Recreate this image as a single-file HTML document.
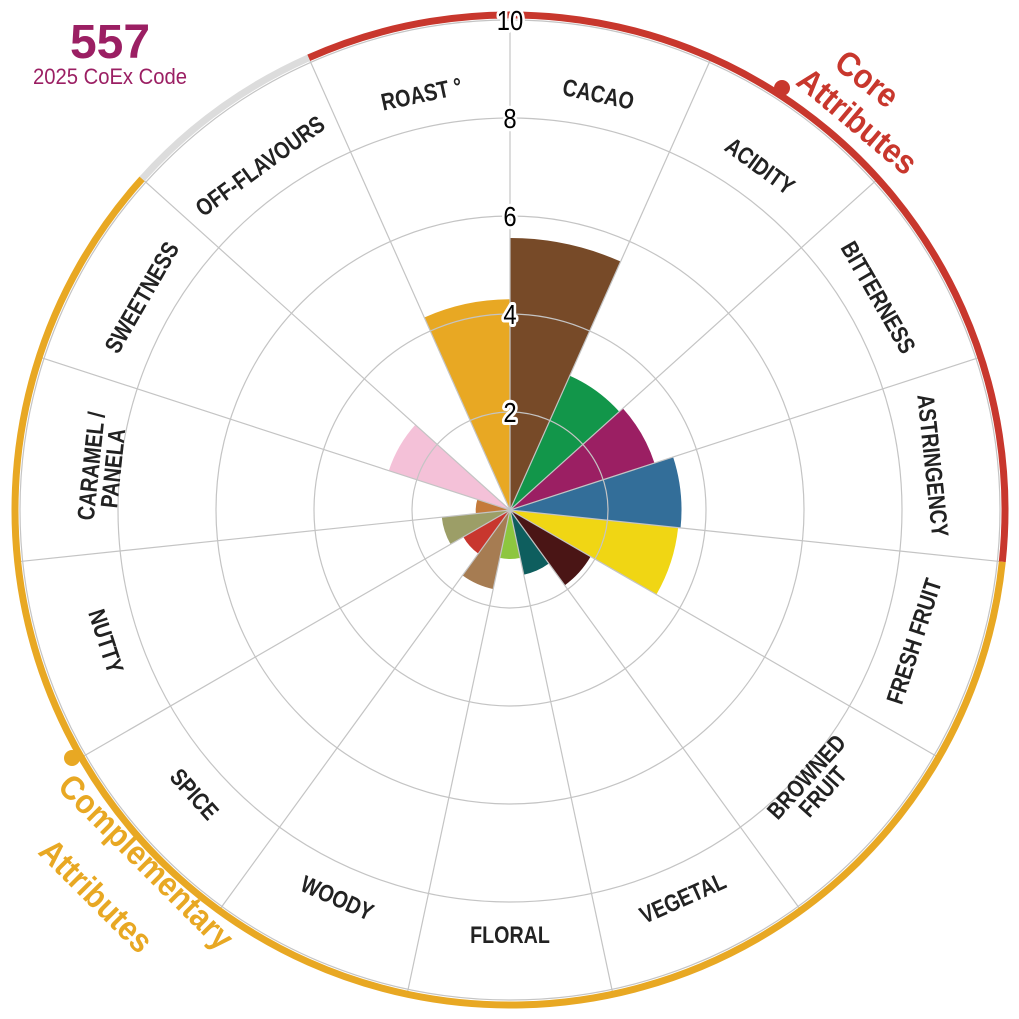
<!DOCTYPE html>
<html><head><meta charset="utf-8"><style>
html,body{margin:0;padding:0;background:#fff;width:1019px;height:1019px;overflow:hidden}
svg{display:block}
</style></head><body>
<svg id="s" width="1019" height="1019" viewBox="0 0 1019 1019" xmlns="http://www.w3.org/2000/svg">
<text x="110" y="58" text-anchor="middle" font-family="Liberation Sans, sans-serif" font-weight="bold" font-size="48" fill="#9b1f63">557</text>
<text transform="translate(110,84) scale(0.92,1)" text-anchor="middle" font-family="Liberation Sans, sans-serif" font-size="22" fill="#9b1f63">2025 CoEx Code</text>
</svg>
<script>
const s=document.getElementById('s');const NS='http://www.w3.org/2000/svg';
const cx=510,cy=510,U=49;
function P(a,r){const t=a*Math.PI/180;return [cx+r*Math.sin(t),cy-r*Math.cos(t)];}
function add(tag,at,txt){const e=document.createElementNS(NS,tag);for(const k in at)e.setAttribute(k,at[k]);if(txt!==undefined)e.textContent=txt;s.appendChild(e);return e;}
function arc(a0,a1,r){const p=P(a0,r),q=P(a1,r);const large=(a1-a0)>180?1:0;return `M${p[0]},${p[1]} A${r},${r} 0 ${large} 1 ${q[0]},${q[1]}`;}
const cats=[
["CACAO",5.55,"#774a28"],["ACIDITY",3.0,"#12964a"],["BITTERNESS",3.1,"#9b1f63"],["ASTRINGENCY",3.5,"#336e99"],
["FRESH FRUIT",3.45,"#f0d614"],["BROWNED|FRUIT",1.9,"#4a1515"],["VEGETAL",1.35,"#0e5e5e"],["FLORAL",1.0,"#8dc63f"],
["WOODY",1.65,"#a67c52"],["SPICE",1.1,"#c8362e"],["NUTTY",1.4,"#9c9e67"],["CARAMEL /|PANELA",0.7,"#c47a3a"],
["SWEETNESS",2.6,"#f4c1d8"],["OFF-FLAVOURS",0,"#fff"],["ROAST °",4.3,"#e8a823"]];
cats.forEach((c,i)=>{if(c[1]<=0)return;const a0=i*24,a1=a0+24,r=c[1]*U;const p=P(a0,r);
add('path',{d:`M${cx},${cy} L${p[0]},${p[1]} ${arc(a0,a1,r).replace(/^M[^A]*/,'')} Z`,fill:c[2]});});
for(let k=1;k<=5;k++)add('circle',{cx,cy,r:k*2*U,fill:'none',stroke:'#c4c4c4','stroke-width':1.2});
cats.forEach((c,i)=>{const p=P(i*24,492);add('line',{x1:cx,y1:cy,x2:p[0],y2:p[1],stroke:'#c4c4c4','stroke-width':1.2});});
add('path',{d:arc(-24,96,495),fill:'none',stroke:'#c8372d','stroke-width':7});
add('path',{d:arc(96,312,495),fill:'none',stroke:'#e8a823','stroke-width':7});
add('path',{d:arc(312,336,495),fill:'none',stroke:'#dcdcdc','stroke-width':7});
add('circle',{cx:782,cy:88,r:8,fill:'#c8372d'});
add('circle',{cx:72,cy:758,r:8,fill:'#e8a823'});
cats.forEach((c,i)=>{const m=i*24+12;const lines=c[0].split('|');const r=lines.length>1?410:425;const p=P(m,r);
let rot=(m>90&&m<270)?m-180:m;
const t=add('text',{transform:`translate(${p[0]},${p[1]}) rotate(${rot}) scale(0.82,1)`,'text-anchor':'middle','font-family':'Liberation Sans, sans-serif','font-weight':'bold','font-size':24,fill:'#222'});
lines.forEach((l,j)=>{const ts=document.createElementNS(NS,'tspan');ts.setAttribute('x',0);ts.setAttribute('y',(j-(lines.length-1)/2)*22+8);ts.textContent=l;t.appendChild(ts);});});
[2,4,6,8,10].forEach(v=>{add('text',{transform:`translate(${cx},${cy-v*U+10}) scale(0.85,1)`,'text-anchor':'middle','font-family':'Liberation Sans, sans-serif','font-size':28,fill:'#000',stroke:'#fff','stroke-width':6,'paint-order':'stroke','stroke-linejoin':'round'},String(v));});
const tf='Liberation Sans, sans-serif';
add('text',{transform:'translate(860,88) rotate(38) scale(0.9,1)','text-anchor':'middle','font-family':tf,'font-weight':'bold','font-size':34,fill:'#c8372d'},'Core');
add('text',{transform:'translate(850,130) rotate(40) scale(0.9,1)','text-anchor':'middle','font-family':tf,'font-weight':'bold','font-size':34,fill:'#c8372d'},'Attributes');
add('text',{transform:'translate(138,870) rotate(45) scale(0.9,1)','text-anchor':'middle','font-family':tf,'font-weight':'bold','font-size':34,fill:'#e8a823'},'Complementary');
add('text',{transform:'translate(88,904) rotate(45) scale(0.9,1)','text-anchor':'middle','font-family':tf,'font-weight':'bold','font-size':34,fill:'#e8a823'},'Attributes');
</script>
</body></html>
